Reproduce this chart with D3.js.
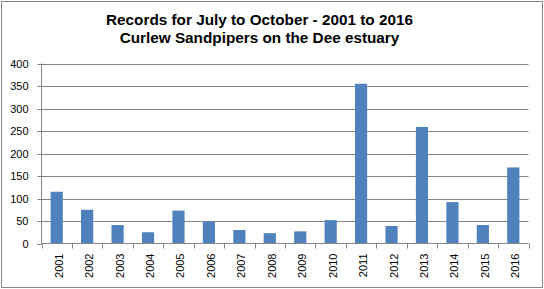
<!DOCTYPE html>
<html><head><meta charset="utf-8">
<script src="https://cdn.jsdelivr.net/npm/d3@7"></script>
<style>body{margin:0;background:#fff}svg{display:block}</style>
</head><body>
<script>
const years = ["2001","2002","2003","2004","2005","2006","2007","2008","2009","2010","2011","2012","2013","2014","2015","2016"];
const counts = [115,75,41,25,73,49,30,23,27,52,355,39,259,92,41,169];
const yTicks = [0,50,100,150,200,250,300,350,400];
const titleLines = ["Records for July to October - 2001 to 2016","Curlew Sandpipers on the Dee estuary"];

const W=544,H=289;
const svg=d3.select("body").append("svg").attr("width",W).attr("height",H);
svg.append("rect").attr("x",1.5).attr("y",1.5).attr("width",541).attr("height",286)
  .attr("fill","#fff").attr("stroke","#868686").attr("stroke-width",1);

const L=41.5,R=528.5,T=63.5,B=243.5;
const x=d3.scaleBand().domain(years).range([L,R]).paddingInner(0.6).paddingOuter(0.3);
const xb=d3.scaleBand().domain(years).range([L,R]);
const y=d3.scaleLinear().domain([0,400]).range([B,T]);

// gridlines
svg.append("g").selectAll("line").data(yTicks.slice(1)).join("line")
  .attr("x1",L).attr("x2",R).attr("y1",d=>Math.round(y(d))+0.5).attr("y2",d=>Math.round(y(d))+0.5)
  .attr("stroke","#868686").attr("stroke-width",1);

// bars
svg.append("g").selectAll("rect").data(counts).join("rect")
  .attr("x",(d,i)=>x(years[i])).attr("width",x.bandwidth())
  .attr("y",d=>y(d)).attr("height",d=>B-y(d)).attr("fill","#4f81bd");

// y axis
const ya=svg.append("g").attr("transform",`translate(${L},0)`)
  .call(d3.axisLeft(y).tickValues(yTicks).tickSize(4).tickPadding(9));
ya.select(".domain").attr("stroke","#868686").attr("d",`M0,${B}V${T}`);
ya.selectAll(".tick line").attr("stroke","#868686");
ya.selectAll(".tick").attr("transform",d=>`translate(0,${Math.round(y(d))+0.5})`);
ya.selectAll("text").attr("font-family","Liberation Sans, Arial").attr("font-size",11).attr("fill","#000");

// x axis
const xa=svg.append("g").attr("transform",`translate(0,${B})`);
xa.append("line").attr("x1",L).attr("x2",R).attr("stroke","#868686");
const edges=years.map(v=>xb(v)).concat([R]);
xa.selectAll(".tk").data(edges).join("line").attr("class","tk")
  .attr("x1",d=>Math.round(d)+0.5).attr("x2",d=>Math.round(d)+0.5).attr("y1",0).attr("y2",5)
  .attr("stroke","#868686");
xa.selectAll("text").data(years).join("text")
  .attr("transform",d=>`translate(${xb(d)+xb.bandwidth()/2+6},10) rotate(-90)`)
  .attr("text-anchor","end").attr("font-family","Liberation Sans, Arial").attr("font-size",11).attr("fill","#000")
  .text(d=>d);

// title
svg.append("g").selectAll("text").data(titleLines).join("text")
  .attr("x",259.5).attr("y",(d,i)=>24.5+i*18).attr("text-anchor","middle")
  .attr("font-family","Liberation Sans, Arial").attr("font-weight","bold").attr("font-size",15.3).attr("fill","#000")
  .text(d=>d);
</script>
</body></html>
